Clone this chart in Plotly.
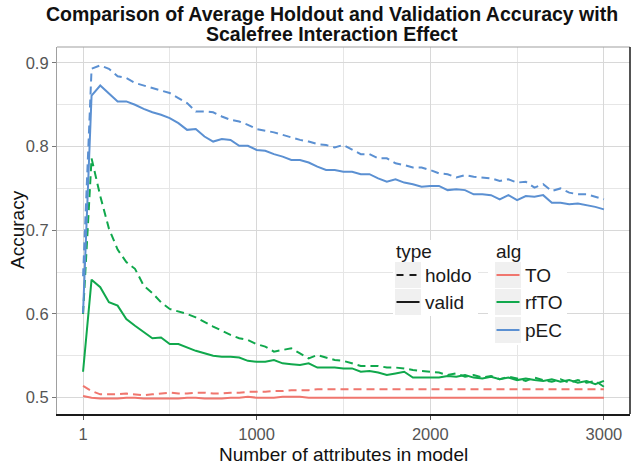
import plotly.graph_objects as go

# ---------------- data ----------------
n_attr = [1] + list(range(50, 3001, 50))

pec_valid = [0.601, 0.861, 0.873, 0.863, 0.854, 0.854, 0.850, 0.845, 0.841, 0.838,
             0.834, 0.828, 0.820, 0.821, 0.812, 0.806, 0.809, 0.808, 0.801, 0.801,
             0.796, 0.795, 0.791, 0.788, 0.784, 0.784, 0.781, 0.776, 0.772, 0.772,
             0.770, 0.770, 0.767, 0.767, 0.762, 0.758, 0.761, 0.757, 0.755, 0.752,
             0.753, 0.753, 0.748, 0.749, 0.748, 0.743, 0.743, 0.742, 0.737, 0.742,
             0.736, 0.741, 0.740, 0.742, 0.733, 0.733, 0.731, 0.732, 0.730, 0.728,
             0.725]
pec_holdo = [0.645, 0.893, 0.897, 0.893, 0.884, 0.882, 0.876, 0.873, 0.870, 0.867,
             0.864, 0.858, 0.852, 0.842, 0.842, 0.841, 0.836, 0.832, 0.830, 0.826,
             0.821, 0.819, 0.817, 0.814, 0.811, 0.808, 0.806, 0.803, 0.802, 0.799,
             0.802, 0.796, 0.791, 0.791, 0.786, 0.786, 0.780, 0.778, 0.775, 0.775,
             0.772, 0.768, 0.767, 0.763, 0.766, 0.764, 0.763, 0.762, 0.759, 0.761,
             0.757, 0.758, 0.751, 0.755, 0.747, 0.750, 0.745, 0.743, 0.743, 0.740,
             0.737]
rfto_valid = [0.531, 0.641, 0.632, 0.614, 0.610, 0.594, 0.586, 0.578, 0.571, 0.572,
              0.564, 0.564, 0.560, 0.556, 0.553, 0.550, 0.549, 0.549, 0.548, 0.544,
              0.543, 0.543, 0.545, 0.541, 0.540, 0.539, 0.541, 0.536, 0.536, 0.536,
              0.535, 0.535, 0.531, 0.532, 0.530, 0.527, 0.529, 0.531, 0.524, 0.524,
              0.524, 0.524, 0.526, 0.525, 0.527, 0.524, 0.523, 0.525, 0.522, 0.524,
              0.521, 0.523, 0.521, 0.520, 0.522, 0.519, 0.521, 0.518, 0.520, 0.516,
              0.520]
rfto_holdo = [0.600, 0.786, 0.741, 0.702, 0.677, 0.662, 0.654, 0.634, 0.625, 0.614,
              0.606, 0.603, 0.600, 0.596, 0.590, 0.585, 0.580, 0.575, 0.571, 0.569,
              0.564, 0.561, 0.555, 0.557, 0.559, 0.553, 0.547, 0.551, 0.548, 0.545,
              0.544, 0.541, 0.538, 0.538, 0.538, 0.536, 0.536, 0.535, 0.533, 0.532,
              0.531, 0.530, 0.527, 0.529, 0.525, 0.527, 0.524, 0.526, 0.522, 0.525,
              0.523, 0.520, 0.524, 0.521, 0.519, 0.522, 0.518, 0.521, 0.518, 0.520,
              0.513]
to_valid = [0.502, 0.500, 0.499, 0.499, 0.499, 0.500, 0.500, 0.499, 0.499, 0.499,
            0.499, 0.499, 0.500, 0.500, 0.499, 0.499, 0.499, 0.500, 0.500, 0.501,
            0.500, 0.500, 0.500, 0.501, 0.501, 0.501, 0.500, 0.500, 0.500, 0.500,
            0.500, 0.500, 0.500, 0.500, 0.500, 0.500, 0.500, 0.500, 0.500, 0.500,
            0.500, 0.500, 0.500, 0.500, 0.500, 0.500, 0.500, 0.500, 0.500, 0.500,
            0.500, 0.500, 0.500, 0.500, 0.500, 0.500, 0.500, 0.500, 0.500, 0.500,
            0.500]
to_holdo = [0.514, 0.508, 0.504, 0.504, 0.504, 0.505, 0.504, 0.503, 0.504, 0.505,
            0.506, 0.505, 0.505, 0.506, 0.506, 0.505, 0.505, 0.506, 0.506, 0.507,
            0.507, 0.507, 0.508, 0.508, 0.509, 0.509, 0.509, 0.510, 0.510, 0.510,
            0.510, 0.510, 0.510, 0.510, 0.510, 0.510, 0.510, 0.510, 0.510, 0.510,
            0.510, 0.510, 0.510, 0.510, 0.510, 0.510, 0.510, 0.510, 0.510, 0.510,
            0.510, 0.510, 0.510, 0.510, 0.510, 0.510, 0.510, 0.510, 0.510, 0.510,
            0.510]

x_ticks = [1, 1000, 2000, 3000]
y_ticks = [0.5, 0.6, 0.7, 0.8, 0.9]
type_labels = ["holdo", "valid"]
alg_labels = ["TO", "rfTO", "pEC"]
title_lines = ["Comparison of Average Holdout and Validation Accuracy with",
               "Scalefree Interaction Effect"]

# ---------------- styling ----------------
FONT = "Liberation Sans, Arial, Helvetica, sans-serif"
colors = {"TO": "#F0766E", "rfTO": "#10A84C", "pEC": "#5B90D2"}
DASH = "8px,5px"
LW = 2
W, H = 633, 464
L, R, T, B = 57, 3, 47, 50
PW, PH = W - L - R, H - T - B


def px(xpix):
    return (xpix - L) / PW


def py(ypix):
    return (H - B - ypix) / PH


fig = go.Figure()

series = [
    ("TO", to_holdo, to_valid),
    ("rfTO", rfto_holdo, rfto_valid),
    ("pEC", pec_holdo, pec_valid),
]
for alg, hold, val in series:
    fig.add_trace(go.Scatter(x=n_attr, y=hold, mode="lines", name=alg + " holdo",
                             showlegend=False,
                             line=dict(color=colors[alg], width=LW, dash=DASH)))
    fig.add_trace(go.Scatter(x=n_attr, y=val, mode="lines", name=alg + " valid",
                             showlegend=False,
                             line=dict(color=colors[alg], width=LW)))

shapes = [
    # panel frame: top (grey) and right (dark)
    dict(type="line", xref="paper", yref="paper", x0=0, x1=1, y0=1, y1=1,
         line=dict(color="#A0A0A0", width=1.2)),
    dict(type="line", xref="paper", yref="paper", x0=1, x1=1, y0=0, y1=1,
         line=dict(color="#1A1A1A", width=1.5)),
]
annotations = []

# ---- legend (ggplot-like, two boxes) ----
LEG_FONT = dict(family=FONT, size=19, color="#1A1A1A")


def legend_box(x0, x1, y0, y1):
    shapes.append(dict(type="rect", xref="paper", yref="paper", layer="above",
                       x0=px(x0), x1=px(x1), y0=py(y1), y1=py(y0),
                       fillcolor="white", line=dict(width=0)))


def key(xk, yc, color, dash):
    shapes.append(dict(type="rect", xref="paper", yref="paper", layer="above",
                       x0=px(xk), x1=px(xk + 26), y0=py(yc + 13), y1=py(yc - 13),
                       fillcolor="#F0F0F0", line=dict(width=0)))
    shapes.append(dict(type="line", xref="paper", yref="paper", layer="above",
                       x0=px(xk + 1.5), x1=px(xk + 24.5), y0=py(yc), y1=py(yc),
                       line=dict(color=color, width=LW, dash=dash)))


def text(x, y, s, font, xanchor="left"):
    annotations.append(dict(x=px(x), y=py(y), xref="paper", yref="paper",
                            text=s, showarrow=False, xanchor=xanchor,
                            yanchor="middle", font=font))


row_y = [275, 302, 330]
legend_box(393, 478, 240, 316)
legend_box(488, 567, 240, 345)
text(394, 251, "type", LEG_FONT)
for lab, dash, yc in zip(type_labels, ["7px,6px", "solid"], row_y):
    key(395, yc, "#1A1A1A", dash)
    text(423, yc, lab, LEG_FONT)
text(494, 251, "alg", LEG_FONT)
for lab, yc in zip(alg_labels, row_y):
    key(495, yc, colors[lab], "solid")
    text(523, yc, lab, LEG_FONT)

# ---- titles ----
TITLE_FONT = dict(family=FONT, size=19.5, color="#111111")
text(332, 14, "<b>" + title_lines[0] + "</b>", TITLE_FONT, xanchor="center")
text(332, 34, "<b>" + title_lines[1] + "</b>", TITLE_FONT, xanchor="center")

AX_FONT = dict(family=FONT, size=19, color="#111111")
annotations.append(dict(x=px(17), y=py(230), xref="paper", yref="paper",
                        text="Accuracy", showarrow=False, textangle=-90,
                        xanchor="center", yanchor="middle", font=AX_FONT))
annotations.append(dict(x=px(343), y=py(454), xref="paper", yref="paper",
                        text="Number of attributes in model", showarrow=False,
                        xanchor="center", yanchor="middle", font=AX_FONT))

fig.update_layout(
    width=W, height=H,
    margin=dict(l=L, r=R, t=T, b=B, autoexpand=False),
    paper_bgcolor="white", plot_bgcolor="white",
    font=dict(family=FONT, color="#111111"),
    showlegend=False,
    shapes=shapes,
    annotations=annotations,
    xaxis=dict(
        range=[-149, 3150], tickvals=x_ticks, ticktext=[str(v) for v in x_ticks],
        showgrid=True, gridcolor="#D8D8D8", gridwidth=1,
        minor=dict(tickvals=[500, 1500, 2500], showgrid=True, gridcolor="#E6E6E6", gridwidth=1),
        zeroline=False, showline=True, linecolor="#1A1A1A", linewidth=1.5,
        ticks="outside", ticklen=4, tickcolor="#555555", tickwidth=1,
        tickfont=dict(family=FONT, size=16.5, color="#555555"),
        automargin=False,
    ),
    yaxis=dict(
        range=[0.4805, 0.919], tickvals=y_ticks, ticktext=[f"{v:.1f}" for v in y_ticks],
        showgrid=True, gridcolor="#D8D8D8", gridwidth=1,
        minor=dict(tickvals=[0.55, 0.65, 0.75, 0.85], showgrid=True, gridcolor="#E6E6E6", gridwidth=1),
        zeroline=False, showline=True, linecolor="#A0A0A0", linewidth=1.2,
        ticks="outside", ticklen=4, tickcolor="#777777", tickwidth=1,
        tickfont=dict(family=FONT, size=16.5, color="#555555"),
        automargin=False,
    ),
)

fig.write_html(
    "out.html",
    config={"displayModeBar": False},
    post_script="document.body.style.margin='0';document.body.style.overflow='hidden';",
)
